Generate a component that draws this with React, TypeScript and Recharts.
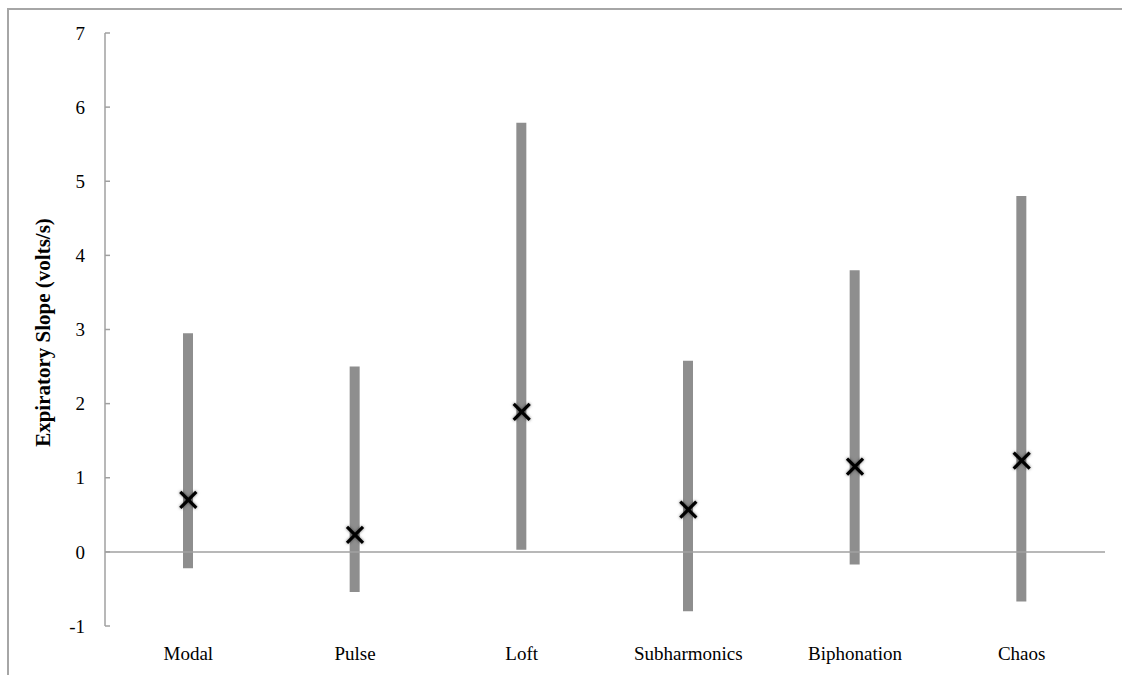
import React from 'react';
import { ComposedChart, Bar, Line, XAxis, YAxis, ReferenceLine } from 'recharts';

// values
const categories = ['Modal', 'Pulse', 'Loft', 'Subharmonics', 'Biphonation', 'Chaos'];
const lows = [-0.22, -0.54, 0.03, -0.8, -0.17, -0.67];
const highs = [2.95, 2.5, 5.79, 2.58, 3.8, 4.8];
const means = [0.7, 0.23, 1.89, 0.57, 1.15, 1.23];
const yTicks = [-1, 0, 1, 2, 3, 4, 5, 6, 7];

const data = categories.map((name, i) => ({
  name,
  range: [lows[i], highs[i]],
  mean: means[i],
}));

const FONT = '"Liberation Serif", "Times New Roman", serif';
const AXIS = '#a0a0a0';
const TICK_MARGIN = 20;

const YTick = (props: any) => {
  const { x, y, payload } = props;
  return (
    <g>
      <line x1={x + TICK_MARGIN} x2={x + TICK_MARGIN + 5} y1={y} y2={y} stroke={AXIS} strokeWidth={1.5} />
      <text x={x} y={y} dy="0.35em" textAnchor="end" fill="#000" fontFamily={FONT} fontSize={19}>
        {payload.value}
      </text>
    </g>
  );
};

const Cross = (props: any) => {
  const { cx, cy } = props;
  if (cx == null || cy == null) return null;
  const s = 8;
  return (
    <g style={{ filter: 'drop-shadow(0px 0px 1.5px rgba(0,0,0,0.55))' }}>
      <line x1={cx - s} y1={cy - s} x2={cx + s} y2={cy + s} stroke="#000" strokeWidth={3.2} />
      <line x1={cx - s} y1={cy + s} x2={cx + s} y2={cy - s} stroke="#000" strokeWidth={3.2} />
    </g>
  );
};

const YTitle = (props: any) => {
  const vb = props.viewBox || { x: 0, y: 33, height: 593 };
  const cx = 50;
  const cy = vb.y + vb.height / 2 + 3;
  return (
    <text
      x={cx}
      y={cy}
      transform={`rotate(-90, ${cx}, ${cy})`}
      textAnchor="middle"
      fontFamily={FONT}
      fontWeight="bold"
      fontSize={21}
      fill="#000"
    >
      Expiratory Slope (volts/s)
    </text>
  );
};

export default function App() {
  return (
    <div style={{ position: 'fixed', left: 0, top: 0, width: 1122, height: 675, overflow: 'hidden', background: '#fff' }}>
      <div
        style={{
          position: 'absolute',
          left: 7,
          top: 8,
          width: 1300,
          height: 900,
          borderTop: '2px solid #a6a6a6',
          borderLeft: '2px solid #a6a6a6',
        }}
      />
      <div style={{ position: 'absolute', left: 0, top: 0 }}>
        <ComposedChart width={1122} height={675} data={data} margin={{ top: 33, right: 17, bottom: 0, left: 0 }}>
          <XAxis
            dataKey="name"
            axisLine={false}
            tickLine={false}
            tickSize={0}
            tickMargin={21}
            height={49}
            interval={0}
            tick={{ fill: '#000', fontFamily: FONT, fontSize: 19 }}
          />
          <YAxis
            domain={[-1, 7]}
            ticks={yTicks}
            width={105}
            axisLine={{ stroke: AXIS, strokeWidth: 1.5 }}
            tickLine={false}
            tickSize={0}
            tickMargin={TICK_MARGIN}
            tick={<YTick />}
            label={<YTitle />}
          />
          <ReferenceLine y={0} stroke={AXIS} strokeWidth={1.5} />
          <Bar dataKey="range" barSize={10} fill="#8e8e8e" isAnimationActive={false} />
          <Line
            dataKey="mean"
            stroke="none"
            dot={<Cross />}
            activeDot={false}
            isAnimationActive={false}
          />
        </ComposedChart>
      </div>
    </div>
  );
}
